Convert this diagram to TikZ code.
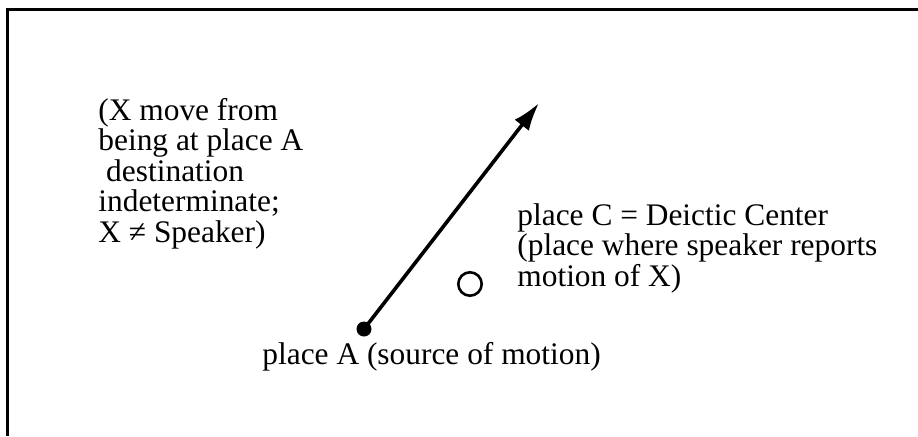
\documentclass[tikz,border=0pt]{standalone}
\usepackage{fontspec}
\setmainfont{Liberation Serif}
\usetikzlibrary{arrows.meta}

\begin{document}
\begin{tikzpicture}[x=0.5pt,y=-0.5pt,
  txt/.style={inner sep=0pt,align=left,anchor=base west,
              font=\fontsize{15.7}{15.25}\selectfont},
  ar/.style={-{Latex[length=14pt,width=9pt]},line width=1.8pt},
  spot/.style={circle,fill,inner sep=0pt,minimum size=7.5pt},
  ring/.style={circle,draw,line width=1.3pt,inner sep=0pt,minimum size=11.7pt}
]
\useasboundingbox (0,0) rectangle (918,436);
% marco
\draw[line width=1.5pt] (918,9) -- (7,9) -- (7,436);

\node[spot] (pa) at (364,329) {};
\node[ring] (pc) at (470,284) {};
\coordinate (tip) at (539,103);
\draw[ar] (pa.center) -- (tip);

% base = baseline of the last line
\node[txt] (nota) at (98,242) {(X move from\\being at place A\\\ destination\\indeterminate;\\X ≠ Speaker)};
\node[txt] (deic) at (517,286) {place C = Deictic Center\\(place where speaker reports\\motion of X)};
\node[txt] (src) at (262,364) {place A (source of motion)};
\end{tikzpicture}
\end{document}
